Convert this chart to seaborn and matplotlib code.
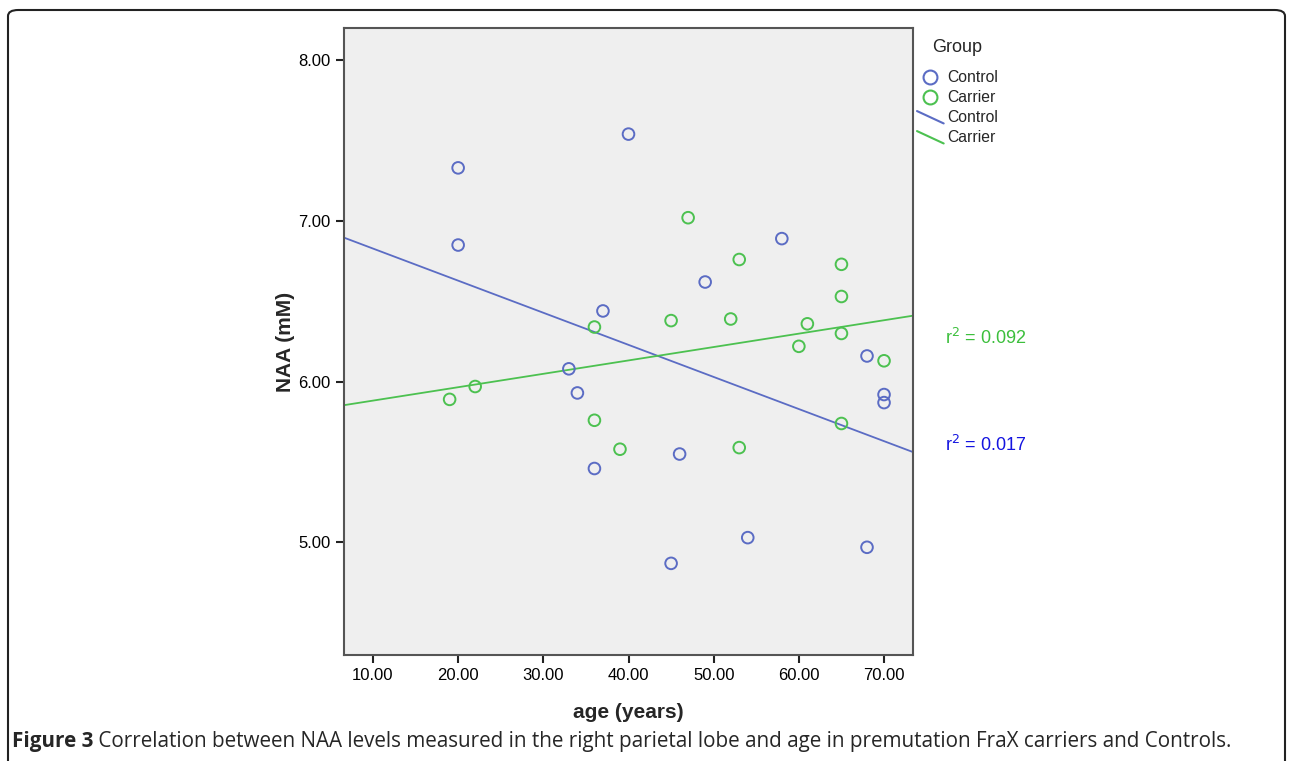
import numpy as np
import pandas as pd
import matplotlib
import matplotlib.pyplot as plt
import seaborn as sns
from matplotlib.lines import Line2D
from matplotlib.legend_handler import HandlerBase
from matplotlib.patches import FancyBboxPatch
matplotlib.use("Agg")

# values
control_age = [20, 20, 40, 37, 33, 34, 36, 49, 58, 46, 45, 54, 68, 70, 70, 68]
control_naa = [7.33, 6.85, 7.54, 6.44, 6.08, 5.93, 5.46, 6.62, 6.89, 5.55,
               4.87, 5.03, 6.16, 5.92, 5.87, 4.97]
carrier_age = [19, 22, 36, 36, 39, 47, 53, 45, 52, 65, 65, 61, 65, 60, 70, 65, 53]
carrier_naa = [5.89, 5.97, 6.34, 5.76, 5.58, 7.02, 6.76, 6.38, 6.39, 6.53,
               6.73, 6.36, 6.30, 6.22, 6.13, 5.74, 5.59]
groups = ['Control', 'Carrier']
r2_text = ['r$^2$ = 0.017', 'r$^2$ = 0.092']
x_ticks = [10, 20, 30, 40, 50, 60, 70]
y_ticks = [5, 6, 7, 8]

df = pd.DataFrame({
    'age': control_age + carrier_age,
    'naa': control_naa + carrier_naa,
    'group': ['Control'] * len(control_age) + ['Carrier'] * len(carrier_age),
})

pt_colors = {'Control': '#5b6cc4', 'Carrier': '#4cc150'}
txt_colors = {'Control': '#1414e0', 'Carrier': '#3cbf3c'}


class DiagonalLine(HandlerBase):
    """SPSS style legend key: a short slanted line"""
    def create_artists(self, legend, orig, xd, yd, width, height, fontsize, trans):
        ln = Line2D([-xd, -xd + width], [-yd + height, -yd - 1],
                    color=orig.get_color(), lw=orig.get_linewidth(), transform=trans)
        return [ln]


sns.set_style('white')
plt.rcParams['font.family'] = ['Liberation Sans', 'DejaVu Sans']

fig = plt.figure(figsize=(12.92, 7.61), dpi=100)
ax = fig.add_axes([344 / 1292, 1 - 655 / 761, (913 - 344) / 1292, (655 - 28) / 761])
ax.set_facecolor('#efefef')
ax.set_xlim(6.6, 73.4)
ax.set_ylim(4.3, 8.2)

# regression lines across the whole axis
for g in groups:
    sub = df[df['group'] == g]
    sns.regplot(data=sub, x='age', y='naa', ax=ax, scatter=False, ci=None,
                truncate=False, line_kws=dict(color=pt_colors[g], lw=1.3))

sns.scatterplot(data=df, x='age', y='naa', hue='group', palette=pt_colors,
                ax=ax, s=70, linewidth=1.4, legend=False, zorder=3)
for coll in ax.collections:
    coll.set_facecolor('none')
    coll.set_edgecolor([pt_colors[g] for g in df['group']])

ax.set_xlim(6.6, 73.4)
ax.set_ylim(4.3, 8.2)
ax.set_xticks(x_ticks)
ax.set_xticklabels(['%.2f' % v for v in x_ticks])
ax.set_yticks(y_ticks)
ax.set_yticklabels(['%.2f' % v for v in y_ticks])
ax.tick_params(axis='both', direction='out', length=6, width=1.5,
               color='#222222', labelcolor='black', labelsize=12,
               left=True, bottom=True)
for s in ax.spines.values():
    s.set_color('#555555')
    s.set_linewidth(1.5)

ax.set_xlabel('age (years)', fontsize=15, fontweight='bold', labelpad=14)
ax.set_ylabel('NAA (mM)', fontsize=15, fontweight='heavy', labelpad=2.5)

# r squared labels
ax.text(1.056, 0.505, r2_text[1], transform=ax.transAxes, color=txt_colors['Carrier'],
        fontsize=13, va='center')
ax.text(1.056, 0.335, r2_text[0], transform=ax.transAxes, color=txt_colors['Control'],
        fontsize=13, va='center')

# legend
handles = [
    Line2D([], [], marker='o', ls='none', mfc='none', mec=pt_colors['Control'], ms=10, mew=1.5),
    Line2D([], [], marker='o', ls='none', mfc='none', mec=pt_colors['Carrier'], ms=10, mew=1.5),
    Line2D([], [], color=pt_colors['Control'], lw=1.5),
    Line2D([], [], color=pt_colors['Carrier'], lw=1.5),
]
leg = ax.legend(handles, groups + groups, loc='upper left',
                bbox_to_anchor=(917 / 1292, 1 - 70 / 761), bbox_transform=fig.transFigure,
                frameon=False, fontsize=11.3, handlelength=1.7, handletextpad=0.2,
                labelspacing=0.32, borderpad=0, borderaxespad=0,
                handler_map={handles[2]: DiagonalLine(), handles[3]: DiagonalLine()})
fig.text(932 / 1292, 1 - 47 / 761, 'Group', fontsize=13, va='center')

# outer frame of the figure panel
frame = FancyBboxPatch((8 / 1292, -0.05), 1277 / 1292, 1 - 10 / 761 + 0.05,
                       boxstyle='round,pad=0,rounding_size=0.008',
                       transform=fig.transFigure, fill=False, ec='#222222',
                       lw=1.5, clip_on=False)
fig.patches.append(frame)

cap = fig.text(12 / 1292, 1 - 742 / 761, 'Figure 3', fontsize=14.9,
               fontweight='bold', family=['Open Sans', 'DejaVu Sans'], va='center')
ax.annotate(' Correlation between NAA levels measured in the right parietal lobe '
            'and age in premutation FraX carriers and Controls.',
            xy=(1, 0.5), xycoords=cap, va='center', fontsize=14.9,
            family=['Open Sans', 'DejaVu Sans'], annotation_clip=False)

plt.savefig('out.png', dpi=100)
